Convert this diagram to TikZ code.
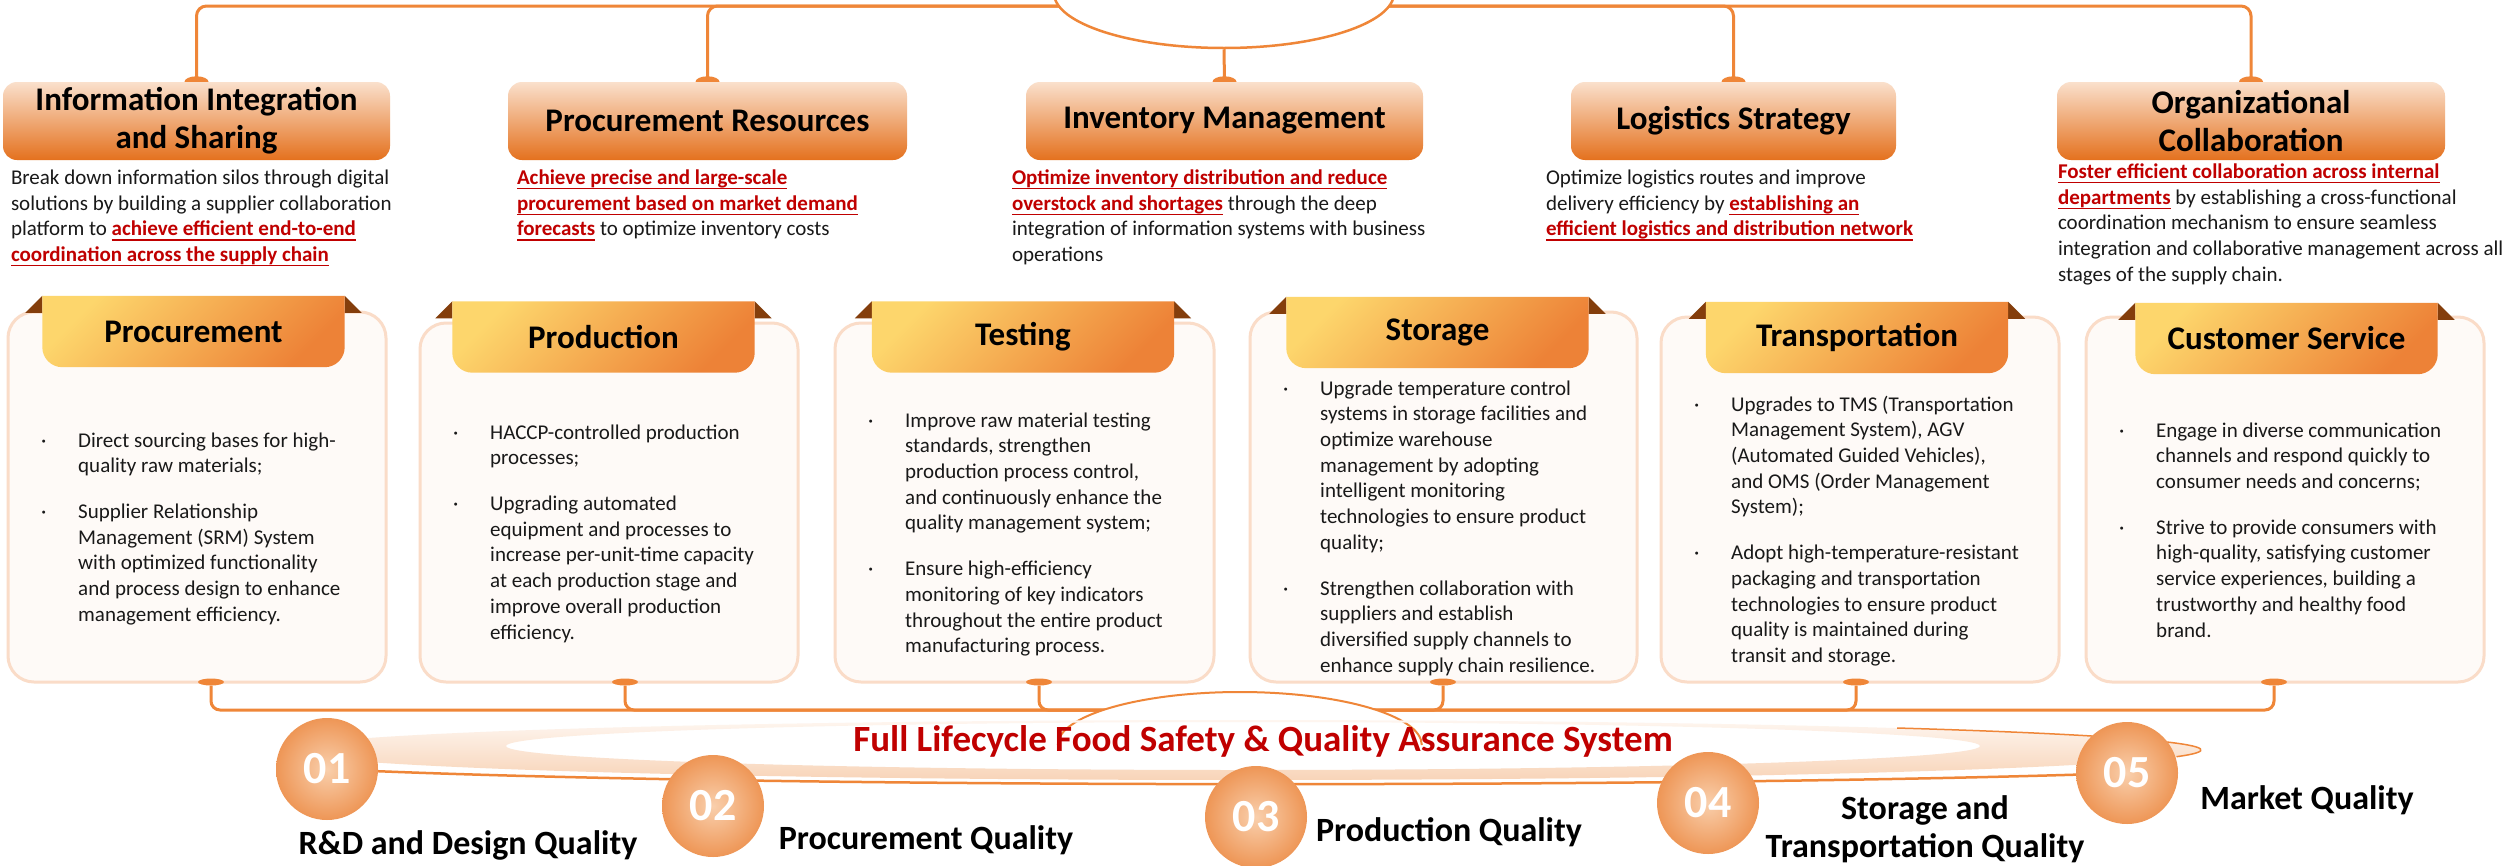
\documentclass[tikz,border=0pt]{standalone}
\usepackage{fontspec}
\setmainfont{Carlito}
\usetikzlibrary{positioning,shapes.geometric,backgrounds,calc}
\definecolor{linkCol}{RGB}{239,134,56}
\definecolor{hdrTop}{RGB}{250,224,204}
\definecolor{hdrBot}{RGB}{228,113,30}
\definecolor{tabTop}{RGB}{253,214,108}
\definecolor{tabBot}{RGB}{237,130,55}
\definecolor{earCol}{RGB}{132,62,12}
\definecolor{cardLine}{RGB}{250,220,200}
\definecolor{cardFill}{RGB}{254,250,247}
\definecolor{keyRed}{RGB}{192,0,0}
\definecolor{inkCol}{RGB}{25,25,25}
\definecolor{bandTop}{RGB}{254,246,240}
\definecolor{bandBot}{RGB}{248,212,184}
\definecolor{discIn}{RGB}{249,207,172}
\definecolor{discOut}{RGB}{238,150,86}
\newcommand{\bodyfont}{\fontsize{21pt}{25.7pt}\selectfont}
\newcommand{\hdrfont}{\fontsize{33pt}{38pt}\selectfont\bfseries}
\newcommand{\labfont}{\fontsize{34pt}{38pt}\selectfont\bfseries}
% red, bold, underlined key phrase
\newcommand{\keyph}[1]{{\color{keyRed}\bfseries\setbox0\hbox{#1}%
  \rlap{\rule[-5pt]{\wd0}{1.4pt}}\box0}}
\tikzset{
  link/.style={draw=linkCol,line width=3pt},
  knob/.style={ellipse,fill=linkCol,inner sep=0pt,minimum width=24pt,minimum height=11pt},
  hub/.style={ellipse,fill=white,inner sep=0pt},
  hdr/.style={rounded corners=14pt,top color=hdrTop,bottom color=hdrBot,align=center,
              font=\hdrfont,minimum height=78pt,inner sep=0pt},
  desc/.style={inner sep=0pt,font=\bodyfont,text=inkCol},
  card/.style={draw=cardLine,line width=3pt,fill=cardFill,rounded corners=26pt},
  tabtxt/.style={minimum width=302pt,minimum height=71pt,inner sep=0pt,font=\hdrfont},
  tabfill/.style={top color=tabTop,bottom color=tabBot,shading angle=45},
  items/.style={anchor=north west,inner sep=0pt,font=\bodyfont,text=inkCol},
  numdisc/.style={circle,minimum size=102pt,inner sep=0pt,inner color=discIn,
                  outer color=discOut,text=white,font={\fontsize{46pt}{50pt}\selectfont\bfseries}},
  qlab/.style={align=center,font=\labfont},
  headline/.style={font={\fontsize{37pt}{42pt}\selectfont\bfseries},text=keyRed},
}

\begin{document}
\begin{tikzpicture}[x=1pt,y=-1pt]
  \useasboundingbox (0,0) rectangle (2514,865);
  \begin{scope}[on background layer]
    \fill[white] (0,0) rectangle (2514,865);
  \end{scope}

  % --- strategy row (top) ---
  \node[hdr,minimum width=387pt] (h1) at (196.5,121) {Information Integration\\and Sharing};
  \node[hdr,minimum width=399pt] (h2) at (707.5,121) {Procurement Resources};
  \node[hdr,minimum width=397pt] (h3) at (1224.5,121) {Inventory Management};
  \node[hdr,minimum width=325pt] (h4) at (1733.5,121) {Logistics Strategy};
  \node[hdr,minimum width=388pt] (h5) at (2251,121) {Organizational\\Collaboration};

  \node[desc,below=6pt of h1.south west,anchor=north west,xshift=8pt] (d1)
    {\begin{tabular}{@{}l@{}}
      Break down information silos through digital\\
      solutions by building a supplier collaboration\\
      platform to \keyph{achieve efficient end-to-end}\\
      \keyph{coordination across the supply chain}
    \end{tabular}};
  \node[desc,below=6pt of h2.south west,anchor=north west,xshift=9pt] (d2)
    {\begin{tabular}{@{}l@{}}
      \keyph{Achieve precise and large-scale}\\
      \keyph{procurement based on market demand}\\
      \keyph{forecasts} to optimize inventory costs
    \end{tabular}};
  \node[desc,below=6pt of h3.south west,anchor=north west,xshift=-14pt] (d3)
    {\begin{tabular}{@{}l@{}}
      \keyph{Optimize inventory distribution and reduce}\\
      \keyph{overstock and shortages} through the deep\\
      integration of information systems with business\\
      operations
    \end{tabular}};
  \node[desc,below=6pt of h4.south west,anchor=north west,xshift=-25pt] (d4)
    {\begin{tabular}{@{}l@{}}
      Optimize logistics routes and improve\\
      delivery efficiency by \keyph{establishing an}\\
      \keyph{efficient logistics and distribution network}
    \end{tabular}};
  \node[desc,below=0pt of h5.south west,anchor=north west,xshift=1pt] (d5)
    {\begin{tabular}{@{}l@{}}
      \keyph{Foster efficient collaboration across internal}\\
      \keyph{departments} by establishing a cross-functional\\
      coordination mechanism to ensure seamless\\
      integration and collaborative management across all\\
      stages of the supply chain.
    \end{tabular}};

  % connectors to the hub above (kept behind the headers)
  \coordinate (topbus) at (1224,6);
  \begin{scope}[on background layer]
    \foreach \h in {h1,h2,h4,h5}
      \draw[link,rounded corners=10pt] (\h.north) |- (topbus);
    \node[hub,draw=linkCol,line width=2.5pt,minimum width=340pt,minimum height=110pt]
      (tophub) at (1224,-7) {};
    \draw[link] (tophub.south) -- (h3.north);
    \foreach \i in {1,...,5} \node[knob] (kh\i) at (h\i.north) {};
  \end{scope}

  % --- process cards (middle) ---
  \node[tabtxt] (t1) at (193.5,331.5) {Procurement};
  \node[tabtxt] (t2) at (603.5,337) {Production};
  \node[tabtxt] (t3) at (1023,337) {Testing};
  \node[tabtxt] (t4) at (1437.5,332.5) {Storage};
  \node[tabtxt] (t5) at (1857,337.5) {Transportation};
  \node[tabtxt] (t6) at (2286.5,338.5) {Customer Service};

  \begin{scope}[on background layer]
    \node[card,minimum width=378pt,minimum height=370pt] (box1) at (197,497) {};
    \node[card,minimum width=378pt,minimum height=359pt] (box2) at (609,502.5) {};
    \node[card,minimum width=379pt,minimum height=359pt] (box3) at (1024.5,502.5) {};
    \node[card,minimum width=387pt,minimum height=370pt] (box4) at (1443.5,497) {};
    \node[card,minimum width=398pt,minimum height=365pt] (box5) at (1860,499.5) {};
    \node[card,minimum width=398pt,minimum height=365pt] (box6) at (2285,499.5) {};
    \foreach \i in {1,...,6} {
      \fill[earCol] (t\i.north west) -- ++(0,17) -- ++(-17,0) -- cycle;
      \fill[earCol] (t\i.north east) -- ++(0,17) -- ++(17,0) -- cycle;
      \shade[tabfill] (t\i.north west) -- (t\i.north east) -- ([yshift=20pt]t\i.south east)
        arc[start angle=0,end angle=-90,radius=20pt] -- ([xshift=20pt]t\i.south west)
        arc[start angle=-90,end angle=-180,radius=20pt] -- cycle;
    }
  \end{scope}

  \node[items] (b1) at (41,429) {\begin{tabular}{@{}p{37pt}@{}l@{}}
    \textperiodcentered & Direct sourcing bases for high-\\
    & quality raw materials;\\[20pt]
    \textperiodcentered & Supplier Relationship\\
    & Management (SRM) System\\
    & with optimized functionality\\
    & and process design to enhance\\
    & management efficiency.
  \end{tabular}};
  \node[items] (b2) at (453,421) {\begin{tabular}{@{}p{37pt}@{}l@{}}
    \textperiodcentered & HACCP-controlled production\\
    & processes;\\[20pt]
    \textperiodcentered & Upgrading automated\\
    & equipment and processes to\\
    & increase per-unit-time capacity\\
    & at each production stage and\\
    & improve overall production\\
    & efficiency.
  \end{tabular}};
  \node[items] (b3) at (868,409) {\begin{tabular}{@{}p{37pt}@{}l@{}}
    \textperiodcentered & Improve raw material testing\\
    & standards, strengthen\\
    & production process control,\\
    & and continuously enhance the\\
    & quality management system;\\[20pt]
    \textperiodcentered & Ensure high-efficiency\\
    & monitoring of key indicators\\
    & throughout the entire product\\
    & manufacturing process.
  \end{tabular}};
  \node[items] (b4) at (1283,377) {\begin{tabular}{@{}p{37pt}@{}l@{}}
    \textperiodcentered & Upgrade temperature control\\
    & systems in storage facilities and\\
    & optimize warehouse\\
    & management by adopting\\
    & intelligent monitoring\\
    & technologies to ensure product\\
    & quality;\\[20pt]
    \textperiodcentered & Strengthen collaboration with\\
    & suppliers and establish\\
    & diversified supply channels to\\
    & enhance supply chain resilience.
  \end{tabular}};
  \node[items] (b5) at (1694,393) {\begin{tabular}{@{}p{37pt}@{}l@{}}
    \textperiodcentered & Upgrades to TMS (Transportation\\
    & Management System), AGV\\
    & (Automated Guided Vehicles),\\
    & and OMS (Order Management\\
    & System);\\[20pt]
    \textperiodcentered & Adopt high-temperature-resistant\\
    & packaging and transportation\\
    & technologies to ensure product\\
    & quality is maintained during\\
    & transit and storage.
  \end{tabular}};
  \node[items] (b6) at (2119,419) {\begin{tabular}{@{}p{37pt}@{}l@{}}
    \textperiodcentered & Engage in diverse communication\\
    & channels and respond quickly to\\
    & consumer needs and concerns;\\[20pt]
    \textperiodcentered & Strive to provide consumers with\\
    & high-quality, satisfying customer\\
    & service experiences, building a\\
    & trustworthy and healthy food\\
    & brand.
  \end{tabular}};

  % bus below the cards
  \foreach \i/\x in {1/211,2/625,3/1039,4/1443,5/1856,6/2274}
    \node[knob,minimum width=26pt,minimum height=7pt] (p\i) at (\x,682) {};
  \coordinate (bus) at (1240,710);
  \foreach \i in {1,...,6}
    \draw[link,rounded corners=9pt] (p\i) |- (bus);
  \node[hub,minimum width=364pt,minimum height=106pt] (bothub) at (1240,745) {};
  \draw[linkCol,line width=2pt] (bothub.west)
    arc[start angle=180,end angle=0,x radius=182pt,y radius=53pt];

  % --- quality stages (bottom) ---
  \shade[top color=bandTop,bottom color=bandBot,even odd rule]
    (1245,750) ellipse[x radius=956pt,y radius=30pt]
    (1243,746) ellipse[x radius=737pt,y radius=24pt];
  \draw[linkCol,line width=1.5pt] (1897,728)
    arc[start angle=47,end angle=-13,x radius=956pt,y radius=30pt];
  \coordinate (c1) at (327,769);
  \coordinate (c2) at (713,806);
  \coordinate (c3) at (1256,817);
  \coordinate (c4) at (1708,803);
  \coordinate (c5) at (2127,773);
  \draw[link,line width=2.5pt] (c1) .. controls (750,789) and (1700,788) .. (c5);
  \node[headline] (ttl) at (1263,741) {Full Lifecycle Food Safety \& Quality Assurance System};

  \foreach \i in {1,...,5} \node[numdisc] (disc\i) at (c\i) {0\i};
  \node[qlab] (q1) at (468,845) {R\&D and Design Quality};
  \node[qlab] (q2) at (926,840) {Procurement Quality};
  \node[qlab] (q3) at (1449,832) {Production Quality};
  \node[qlab] (q4) at (1925,829) {Storage and\\Transportation Quality};
  \node[qlab] (q5) at (2307,800) {Market Quality};
\end{tikzpicture}
\end{document}
